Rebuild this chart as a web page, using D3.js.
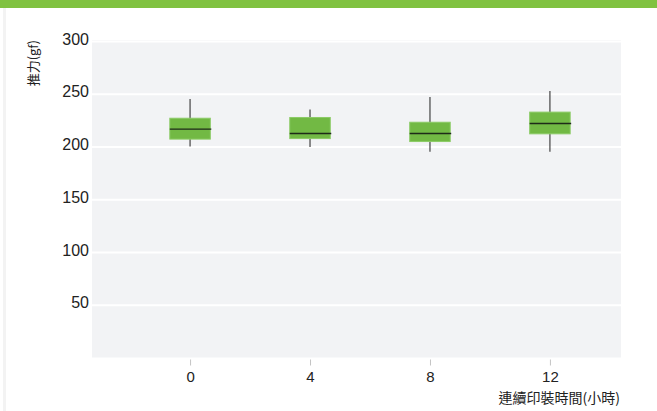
<!DOCTYPE html>
<html>
<head>
<meta charset="utf-8">
<script src="https://cdn.jsdelivr.net/npm/d3@7"></script>
<style>
  body { margin: 0; background: #fff; }
  svg { display: block; }
  .tick text { font-family: "Liberation Sans", Arial, sans-serif; }
</style>
</head>
<body>
<svg width="657" height="411"></svg>
<script>
// hours of continuous printing
const hours = [0, 4, 8, 12];
// box plot values (gf)
const whiskerLow  = [200, 199.5, 195, 195];
const q1          = [207, 207.5, 204.7, 212];
const median      = [216.4, 212.3, 212.3, 221.8];
const q3          = [226.8, 227.5, 223, 232.6];
const whiskerHigh = [245, 235, 247, 252.6];
const yTicks = [50, 100, 150, 200, 250, 300];

const svg = d3.select('svg');

// green strip on top and faint left border
svg.append('rect').attr('x', 0).attr('y', 0).attr('width', 657).attr('height', 8).attr('fill', '#80c241');
svg.append('rect').attr('x', 3).attr('y', 8).attr('width', 3).attr('height', 403).attr('fill', '#f3f3f3');

const plotL = 92, plotR = 621, plotT = 40, plotB = 357.5;

const x = d3.scaleLinear().domain([-3.27, 14.37]).range([plotL, plotR]);
const y = d3.scaleLinear().domain([0, 300]).range([plotB, plotT + 1]);

svg.append('rect')
  .attr('x', plotL).attr('y', plotT)
  .attr('width', plotR - plotL).attr('height', plotB - plotT)
  .attr('fill', '#f2f3f5');

// grid lines
svg.append('g')
  .attr('transform', `translate(${plotL},0)`)
  .call(d3.axisLeft(y).tickValues(yTicks).tickSize(-(plotR - plotL)).tickFormat(''))
  .call(g => g.select('.domain').remove())
  .call(g => g.selectAll('line').attr('stroke', '#fff').attr('stroke-width', 2));

// y labels
svg.append('g')
  .attr('transform', `translate(${plotL},0)`)
  .call(d3.axisLeft(y).tickValues(yTicks).tickSize(0).tickPadding(3))
  .call(g => g.select('.domain').remove())
  .call(g => g.selectAll('text')
    .attr('font-size', 16).attr('fill', '#222').attr('dy', '0.2em'));

// x axis
svg.append('g')
  .attr('transform', `translate(0,${plotB + 2})`)
  .call(d3.axisBottom(x).tickValues(hours).tickSize(6).tickPadding(6))
  .call(g => g.select('.domain').remove())
  .call(g => g.selectAll('line').attr('stroke', '#c4c4c4'))
  .call(g => g.selectAll('text').attr('font-size', 15).attr('fill', '#222'));

// boxes
const boxW = x(1.35) - x(0);
const boxes = svg.append('g').selectAll('g')
  .data(hours)
  .join('g');

boxes.append('line')
  .attr('x1', d => x(d)).attr('x2', d => x(d))
  .attr('y1', (d, i) => y(whiskerHigh[i]))
  .attr('y2', (d, i) => y(whiskerLow[i]))
  .attr('stroke', '#444').attr('stroke-width', 1.2);

boxes.append('rect')
  .attr('x', d => x(d) - boxW / 2)
  .attr('y', (d, i) => y(q3[i]))
  .attr('width', boxW)
  .attr('height', (d, i) => y(q1[i]) - y(q3[i]))
  .attr('fill', '#72b944')
  .attr('stroke', '#8ccb66').attr('stroke-width', 1);

boxes.append('line')
  .attr('x1', d => x(d) - boxW / 2).attr('x2', d => x(d) + boxW / 2 + 1)
  .attr('y1', (d, i) => y(median[i])).attr('y2', (d, i) => y(median[i]))
  .attr('stroke', '#1e2a18').attr('stroke-width', 1.3);

// axis titles
svg.append('text')
  .attr('transform', 'translate(38,40) rotate(-90)')
  .attr('text-anchor', 'end')
  .attr('font-family', '"Noto Sans CJK TC", sans-serif')
  .attr('font-size', 13)
  .attr('fill', '#222')
  .text('推力(gf)');

svg.append('text')
  .attr('x', 620).attr('y', 403)
  .attr('text-anchor', 'end')
  .attr('font-family', '"Noto Sans CJK TC", sans-serif')
  .attr('font-size', 14)
  .attr('fill', '#222')
  .text('連續印裝時間(小時)');
</script>
</body>
</html>
